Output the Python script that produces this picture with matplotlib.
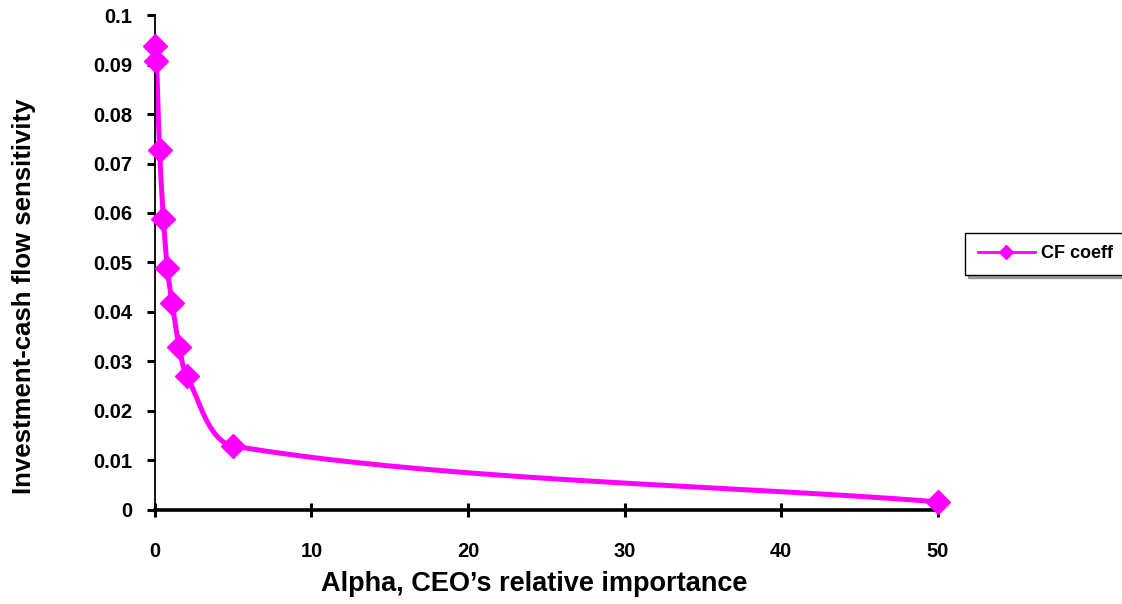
import matplotlib
matplotlib.use("Agg")
import matplotlib.pyplot as plt
import numpy as np

plt.rcParams['font.family'] = ['Liberation Sans', 'DejaVu Sans']

# data
alpha = [0, 0.1, 0.3, 0.55, 0.8, 1.1, 1.55, 2.05, 5, 50]
cf_coeff = [0.0938, 0.0908, 0.0728, 0.0587, 0.0488, 0.0418, 0.0330, 0.0270, 0.0129, 0.0016]
xticks = [0, 10, 20, 30, 40, 50]
yticks = [0, 0.01, 0.02, 0.03, 0.04, 0.05, 0.06, 0.07, 0.08, 0.09, 0.1]
ytick_labels = ['0', '0.01', '0.02', '0.03', '0.04', '0.05', '0.06', '0.07', '0.08', '0.09', '0.1']


def smooth(pts, n=40, k=0.3):
    # bezier through the points in screen space, tangents scaled by segment length
    pts = np.asarray(pts, float)
    t = np.linspace(0, 1, n)[:, None]
    out = []
    for i in range(len(pts) - 1):
        p1, p2 = pts[i], pts[i + 1]
        p0 = pts[i - 1] if i > 0 else p1
        p3 = pts[i + 2] if i + 2 < len(pts) else p2
        L = np.hypot(*(p2 - p1))
        d1 = p2 - p0
        d2 = p3 - p1
        d1 = d1 / (np.hypot(*d1) or 1)
        d2 = d2 / (np.hypot(*d2) or 1)
        c1 = p1 + d1 * L * k
        c2 = p2 - d2 * L * k
        seg = ((1 - t)**3) * p1 + 3 * ((1 - t)**2) * t * c1 + 3 * (1 - t) * t**2 * c2 + t**3 * p2
        out.append(seg)
    return np.vstack(out)


fig = plt.figure(figsize=(11.22, 6.04), dpi=100)
ax = fig.add_axes([0.138, 0.156, 0.698, 0.819])
ax.set_xlim(0, 50)
ax.set_ylim(0, 0.1)

disp = ax.transData.transform(np.column_stack([alpha, cf_coeff]))
curve = ax.transData.inverted().transform(smooth(disp))
ax.plot(curve[:, 0], curve[:, 1], color='#FF00FF', lw=3.6, solid_capstyle='round',
        solid_joinstyle='round', zorder=2, clip_on=False)
ax.plot(alpha, cf_coeff, ls='none', marker='D', ms=12, color='#FF00FF', zorder=3, clip_on=False)
handle, = ax.plot([], [], color='#FF00FF', lw=2, marker='D', ms=7)

ax.set_xticks(xticks)
ax.set_yticks(yticks)
ax.set_yticklabels(ytick_labels)
for s in ['top', 'right']:
    ax.spines[s].set_visible(False)
ax.spines['left'].set_linewidth(1.3)
ax.spines['bottom'].set_linewidth(2.6)
ax.tick_params(axis='y', direction='out', length=6, width=2.2, pad=10, labelsize=14.5)
ax.tick_params(axis='x', direction='inout', length=10, width=2.2, pad=18, labelsize=14.5)
for lab in ax.get_xticklabels() + ax.get_yticklabels():
    lab.set_fontweight('bold')

ax.set_xlabel('Alpha, CEO\u2019s relative importance', fontsize=19.5, fontweight='bold')
ax.set_ylabel('Investment-cash flow sensitivity', fontsize=18.5, fontweight='bold')
ax.xaxis.set_label_coords(0.485, -0.124)
ax.yaxis.set_label_coords(-0.152, 0.432)

leg = fig.legend([handle], ['CF coeff'], loc='center left', bbox_to_anchor=(0.86, 0.58),
                 frameon=True, fancybox=False, shadow=True, prop={'weight': 'bold', 'size': 13},
                 handlelength=3.2, handletextpad=0.3, borderpad=0.7, borderaxespad=0)
leg.get_frame().set_edgecolor('black')
leg.get_frame().set_linewidth(1)

fig.savefig('out.png', dpi=100)
